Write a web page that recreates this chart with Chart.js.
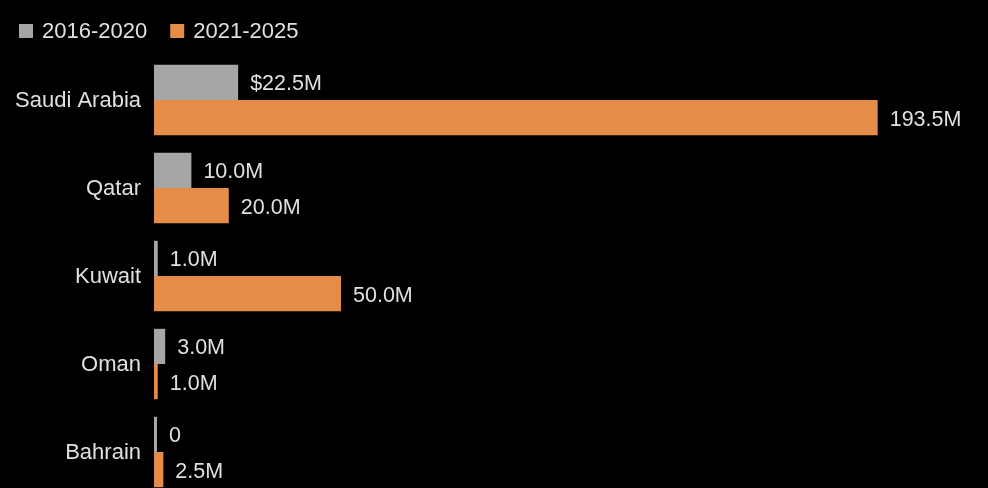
<!DOCTYPE html>
<html>
<head>
<meta charset="utf-8">
<script src="https://cdn.jsdelivr.net/npm/chart.js@4.4.1/dist/chart.umd.min.js"></script>
<style>
  html, body { margin: 0; padding: 0; background: #000; overflow: hidden; }
  canvas { display: block; }
</style>
</head>
<body>
<canvas id="chart" width="988" height="500"></canvas>
<script>
// ── DATA ──
const countries  = ['Saudi Arabia', 'Qatar', 'Kuwait', 'Oman', 'Bahrain'];
const period1    = [22.5, 10.0, 1.0, 3.0, 0];     // 2016-2020, $M
const period2    = [193.5, 20.0, 50.0, 1.0, 2.5]; // 2021-2025, $M
const seriesName = ['2016-2020', '2021-2025'];

// palette
const GRAY   = '#a6a6a6';
const ORANGE = '#e58c48';
const TEXT   = '#e0e0e0';
const FONT   = "'Liberation Sans', Arial, Helvetica, sans-serif";

// value text at the end of every bar
function fmtValue(v, di, i) {
    if (v === 0) return '0';
    const s = v.toFixed(1) + 'M';
    return (di === 0 && i === 0) ? '$' + s : s;
}

const barLabels = {
    id: 'barLabels',
    afterDatasetsDraw(chart) {
        const ctx = chart.ctx;
        ctx.save();
        ctx.font = '21.5px ' + FONT;
        ctx.fillStyle = TEXT;
        ctx.textAlign = 'left';
        ctx.textBaseline = 'middle';
        chart.data.datasets.forEach((ds, di) => {
            chart.getDatasetMeta(di).data.forEach((bar, i) => {
                ctx.fillText(fmtValue(ds.data[i], di, i), bar.x + 12, bar.y + 2);
            });
        });
        ctx.restore();
    }
};

// single-row legend in the top-left corner
const legendRow = {
    id: 'legendRow',
    afterDraw(chart) {
        const ctx = chart.ctx;
        ctx.save();
        ctx.font = '22px ' + FONT;
        ctx.textAlign = 'left';
        ctx.textBaseline = 'middle';
        let x = 19;
        chart.data.datasets.forEach((ds) => {
            ctx.fillStyle = ds.backgroundColor;
            ctx.fillRect(x, 24, 14, 14);
            x += 14 + 9;
            ctx.fillStyle = TEXT;
            ctx.fillText(ds.label, x, 32);
            x += ctx.measureText(ds.label).width + 23;
        });
        ctx.restore();
    }
};

new Chart(document.getElementById('chart'), {
    type: 'bar',
    data: {
        labels: countries,
        datasets: [
            { label: seriesName[0], data: period1, backgroundColor: GRAY },
            { label: seriesName[1], data: period2, backgroundColor: ORANGE }
        ]
    },
    options: {
        indexAxis: 'y',
        responsive: false,
        animation: false,
        datasets: {
            bar: {
                categoryPercentage: 0.8,
                barPercentage: 1.0,
                borderWidth: 0,
                minBarLength: 3
            }
        },
        layout: { padding: { top: 56, left: 0, right: 0, bottom: 4 } },
        plugins: {
            tooltip: { enabled: false },
            legend: { display: false }
        },
        scales: {
            x: {
                display: false,
                min: 0,
                max: 223
            },
            y: {
                afterFit(scale) {
                    // fixed gutter for the country names
                    scale.width = 154;
                    scale.paddingTop = 0;
                    scale.paddingBottom = 0;
                },
                grid: { display: false, drawTicks: false },
                border: { display: false },
                ticks: {
                    color: TEXT,
                    padding: 13,
                    labelOffset: 1,
                    font: { family: FONT, size: 22 }
                }
            }
        }
    },
    plugins: [barLabels, legendRow]
});
</script>
</body>
</html>
